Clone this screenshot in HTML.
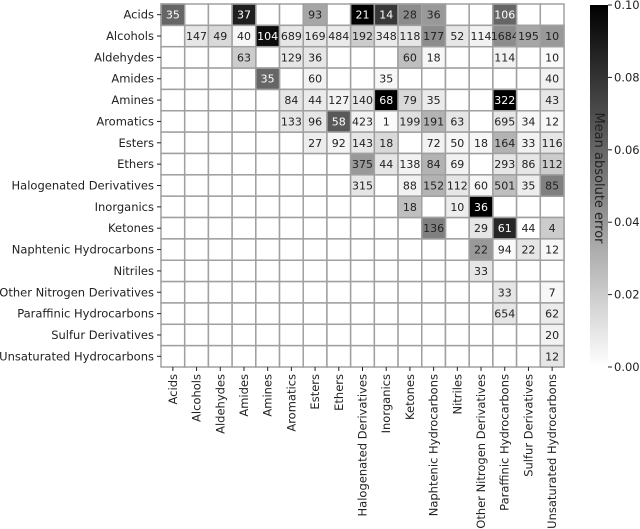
<!DOCTYPE html>
<html><head><meta charset="utf-8">
<style>
html,body{margin:0;padding:0;background:#fff;}
svg{display:block;font-family:"DejaVu Sans","Liberation Sans",sans-serif;}
</style></head>
<body>
<svg id="chart" width="640" height="529" viewBox="0 0 640 529" xmlns="http://www.w3.org/2000/svg">
<defs>
<linearGradient id="cbg" x1="0" y1="1" x2="0" y2="0">
<stop offset="0" stop-color="#ffffff"/><stop offset="1" stop-color="#000000"/>
</linearGradient>
</defs>
<g id="cells"></g>
<g id="ylabels"></g>
<g id="xlabels"></g>
<rect x="590" y="5" width="18" height="362" fill="url(#cbg)"/>
<g id="cbticks"></g>
<text x="0" y="0" font-size="13" fill="#222" text-anchor="middle" transform="translate(595,178) rotate(90)">Mean absolute error</text>
</svg>
<script>
const categories = ["Acids","Alcohols","Aldehydes","Amides","Amines","Aromatics","Esters","Ethers","Halogenated Derivatives","Inorganics","Ketones","Naphtenic Hydrocarbons","Nitriles","Other Nitrogen Derivatives","Paraffinic Hydrocarbons","Sulfur Derivatives","Unsaturated Hydrocarbons"];
const cellRows = [0,0,0,0,0,0,0,0, 1,1,1,1,1,1,1,1,1,1,1,1,1,1,1,1, 2,2,2,2,2,2,2, 3,3,3,3, 4,4,4,4,4,4,4,4,4, 5,5,5,5,5,5,5,5,5,5,5, 6,6,6,6,6,6,6,6,6,6, 7,7,7,7,7,7,7,7, 8,8,8,8,8,8,8,8, 9,9,9, 10,10,10,10,10, 11,11,11,11, 12, 13,13, 14,14, 15, 16];
const cellCols = [0,3,6,8,9,10,11,14, 1,2,3,4,5,6,7,8,9,10,11,12,13,14,15,16, 3,5,6,10,11,14,16, 4,6,9,16, 5,6,7,8,9,10,11,14,16, 5,6,7,8,9,10,11,12,14,15,16, 6,7,8,9,11,12,13,14,15,16, 8,9,10,11,12,14,15,16, 8,10,11,12,13,14,15,16, 10,12,13, 11,13,14,15,16, 13,14,15,16, 13, 14,16, 14,16, 16, 16];
const cellCounts = [35,37,93,21,14,28,36,106, 147,49,40,104,689,169,484,192,348,118,177,52,114,1684,195,10, 63,129,36,60,18,114,10, 35,60,35,40, 84,44,127,140,68,79,35,322,43, 133,96,58,423,1,199,191,63,695,34,12, 27,92,143,18,72,50,18,164,33,116, 375,44,138,84,69,293,86,112, 315,88,152,112,60,501,35,85, 18,10,36, 136,29,61,44,4, 22,94,22,12, 33, 33,7, 654,62, 20, 12];
const cellMae = [0.060,0.088,0.035,0.100,0.078,0.045,0.040,0.060, 0.010,0.015,0.003,0.095,0.010,0.010,0.008,0.020,0.008,0.010,0.045,0.010,0.005,0.045,0.035,0.040, 0.020,0.010,0.010,0.025,0.003,0.005,0.002, 0.060,0.005,0.003,0.005, 0.010,0.008,0.005,0.010,0.100,0.015,0.008,0.100,0.010, 0.010,0.010,0.065,0.005,0.002,0.012,0.030,0.010,0.010,0.003,0.003, 0.007,0.004,0.010,0.015,0.005,0.003,0.003,0.030,0.005,0.010, 0.040,0.010,0.005,0.030,0.005,0.010,0.010,0.020, 0.010,0.005,0.030,0.010,0.003,0.025,0.007,0.050, 0.025,0.007,0.100, 0.050,0.010,0.085,0.000,0.020, 0.040,0.002,0.010,0.003, 0.010, 0.010,0.003, 0.010,0.008, 0.005, 0.010];
const cbTicks = [0.00,0.02,0.04,0.06,0.08,0.10];
const cbTickLabels = ["0.00","0.02","0.04","0.06","0.08","0.10"];

const NS="http://www.w3.org/2000/svg";
const X0=161, Y0=4, CW=(564-161)/17, RH=(367-4)/17, VMAX=0.1;
const CB_TOP=5, CB_BOT=367;
function xPos(c){return X0+c*CW;}
function yPos(r){return Y0+r*RH;}
function cbY(v){return CB_BOT-(v/VMAX)*(CB_BOT-CB_TOP);}
function shade(v){const t=Math.max(0,Math.min(1,v/VMAX));const g=Math.round(255*(1-t));return `rgb(${g},${g},${g})`;}
function mk(tag,attrs){const e=document.createElementNS(NS,tag);for(const k in attrs)e.setAttribute(k,attrs[k]);return e;}

const cells=document.getElementById('cells');
for(let r=0;r<17;r++)for(let c=0;c<17;c++){
  const e=mk('rect',{x:xPos(c),y:yPos(r),width:CW,height:RH,fill:'#fff',stroke:'#a0a0a0','stroke-width':1.5});
  
  
  cells.appendChild(e);
}
for(let i=0;i<cellCounts.length;i++){
  const r=cellRows[i],c=cellCols[i],v=cellMae[i];
  const e=mk('rect',{x:xPos(c),y:yPos(r),width:CW,height:RH,fill:shade(v),stroke:'#a0a0a0','stroke-width':1.5});
  
  
  cells.appendChild(e);
  const t=mk('text',{x:xPos(c)+CW/2,y:yPos(r)+RH/2+4,'font-size':11,'text-anchor':'middle',fill:v>0.05?'#fff':'#222'});
  t.textContent=cellCounts[i];
  
  
  cells.appendChild(t);
}
const yl=document.getElementById('ylabels'), xl=document.getElementById('xlabels');
categories.forEach((name,i)=>{
  const cy=yPos(i)+RH/2;
  yl.appendChild(mk('line',{x1:X0-4,x2:X0,y1:cy,y2:cy,stroke:'#222','stroke-width':1}));
  const t=mk('text',{x:X0-7,y:cy+4,'font-size':11.5,'text-anchor':'end',fill:'#222'});
  t.textContent=name;
  
  
  yl.appendChild(t);
  const cx=xPos(i)+CW/2;
  xl.appendChild(mk('line',{x1:cx,x2:cx,y1:367,y2:371,stroke:'#222','stroke-width':1}));
  const u=mk('text',{x:0,y:0,'font-size':11.5,'text-anchor':'end',fill:'#222',transform:`translate(${cx+4},374) rotate(-90)`});
  u.textContent=name;
  
  
  xl.appendChild(u);
});
const cbt=document.getElementById('cbticks');
cbTicks.forEach((v,i)=>{
  const y=cbY(v);
  cbt.appendChild(mk('line',{x1:608,x2:612,y1:y,y2:y,stroke:'#222','stroke-width':1}));
  const t=mk('text',{x:614,y:y+4,'font-size':11.5,fill:'#222'});
  t.textContent=cbTickLabels[i];
  
  
  cbt.appendChild(t);
});
</script>
</body></html>
